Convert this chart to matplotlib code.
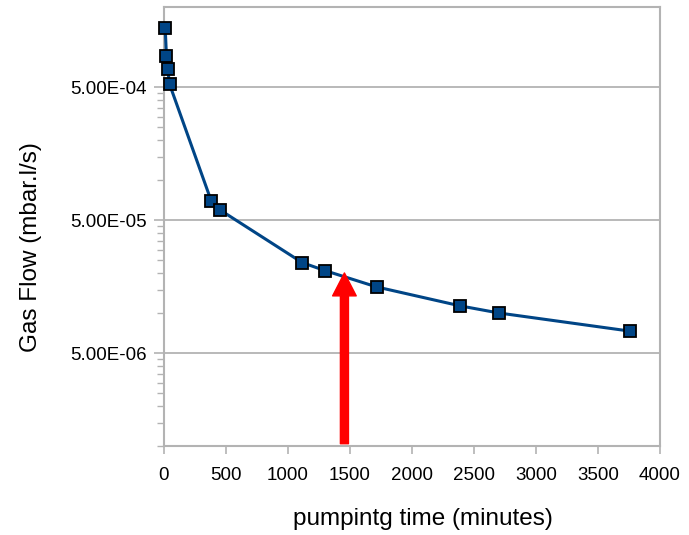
import matplotlib

matplotlib.use("Agg")
import matplotlib.pyplot as plt
import numpy as np
from matplotlib.ticker import FixedLocator, FuncFormatter, NullFormatter

# pumping time (minutes) and measured gas flow (mbar.l/s)
pump_minutes = [10, 20, 30, 45, 380, 450, 1115, 1300, 1715, 2390, 2700, 3760]
gas_flow = [1.38e-3, 8.5e-4, 6.8e-4, 5.25e-4, 7.0e-5, 5.97e-5,
            2.39e-5, 2.08e-5, 1.57e-5, 1.13e-5, 1.0e-5, 7.3e-6]

# marker arrow: x position, tip and tail on the flow axis
arrow_minutes = 1455
arrow_tip = 2.0e-5
arrow_tail = 1.04e-6

y_major = [5e-6, 5e-5, 5e-4]
x_ticks = [0, 500, 1000, 1500, 2000, 2500, 3000, 3500, 4000]

LINE_BLUE = "#004586"
GRID_GREY = "#b3b3b3"

plt.rcParams["font.family"] = ["Liberation Sans", "DejaVu Sans"]

fig = plt.figure(figsize=(6.89, 5.35), dpi=100)
ax = fig.add_axes([0.238, 0.1664, 0.72, 0.8206])

ax.plot(pump_minutes, gas_flow, color=LINE_BLUE, lw=2.2, marker="s", ms=8.3,
        mfc=LINE_BLUE, mec="black", mew=1.3, zorder=3, clip_on=False)

ax.set_yscale("log")
ax.set_ylim(1e-6, 2e-3)
ax.set_xlim(0, 4000)

# linear subdivisions inside each decade, like the spreadsheet axis
minor = []
for base in [5e-7, 5e-6, 5e-5]:
    minor.extend(base * np.arange(2, 10))
minor = [m for m in minor if m >= 1e-6]
ax.yaxis.set_major_locator(FixedLocator(y_major))
ax.yaxis.set_minor_locator(FixedLocator(minor))
ax.yaxis.set_major_formatter(FuncFormatter(lambda v, _: f"{v:.2E}"))
ax.yaxis.set_minor_formatter(NullFormatter())
ax.xaxis.set_major_locator(FixedLocator(x_ticks))

ax.grid(axis="y", which="major", color=GRID_GREY, lw=1.3)
ax.set_axisbelow(True)
for spine in ax.spines.values():
    spine.set_color(GRID_GREY)
    spine.set_linewidth(1.5)

ax.tick_params(axis="y", which="major", length=7.2, width=1.2, color=GRID_GREY,
               labelsize=13.5, pad=5)
ax.tick_params(axis="y", which="minor", length=5, width=1.0, color=GRID_GREY)
ax.tick_params(axis="x", which="major", length=6, width=1.2, color=GRID_GREY,
               labelsize=13.5, pad=9)

ax.set_xlabel("pumpintg time (minutes)", fontsize=17.5)
ax.set_ylabel("Gas Flow (mbar.l/s)", fontsize=17.5)
ax.xaxis.set_label_coords(0.522, -0.142)
ax.yaxis.set_label_coords(-0.245, 0.452)

ax.annotate("", xy=(arrow_minutes, arrow_tip), xytext=(arrow_minutes, arrow_tail),
            arrowprops=dict(arrowstyle="simple,head_length=16.5,head_width=17,tail_width=5.8",
                            mutation_scale=1, color="red", shrinkA=0, shrinkB=0),
            zorder=4)

fig.savefig("out.png", dpi=100)
